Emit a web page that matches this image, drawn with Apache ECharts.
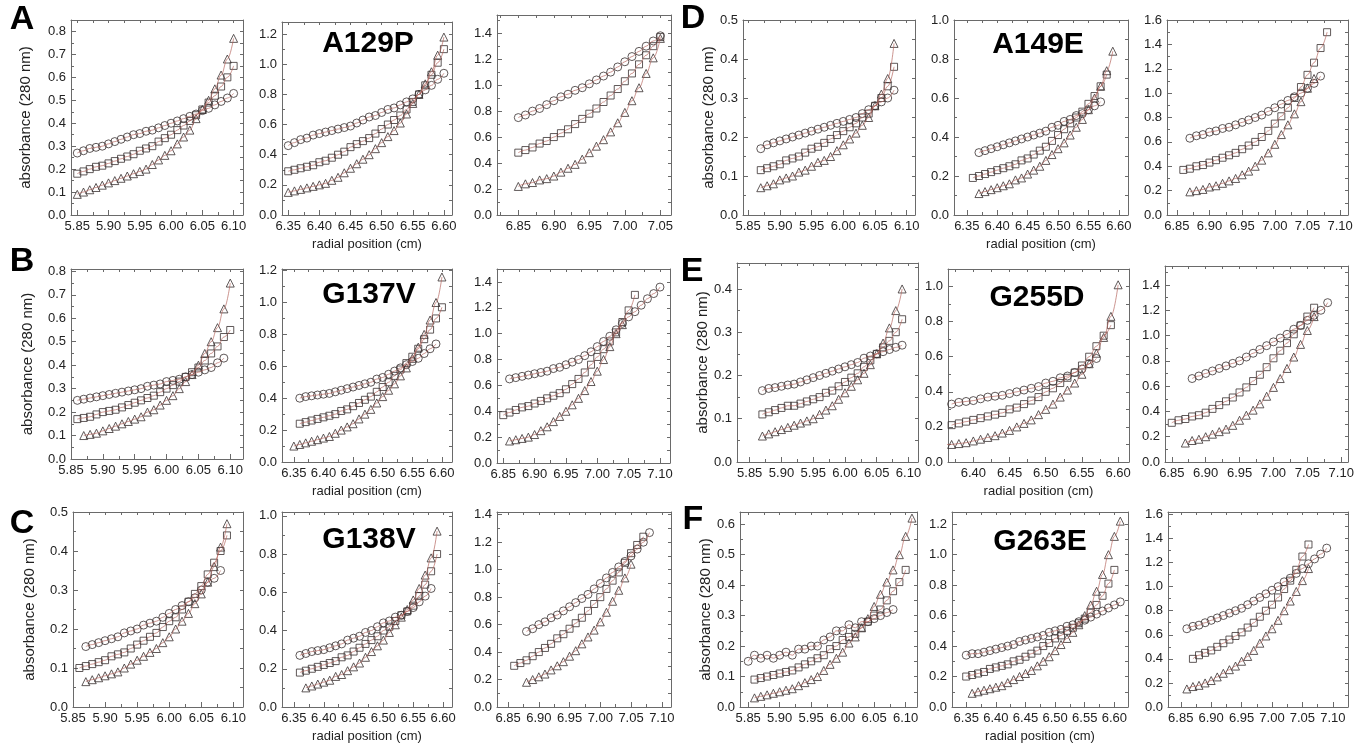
<!DOCTYPE html>
<html><head><meta charset="utf-8">
<script src="https://cdn.jsdelivr.net/npm/echarts@6/dist/echarts.min.js"></script>
<style>html,body{margin:0;padding:0;background:#fff}#c{width:1366px;height:750px}</style>
</head><body><div id="c"></div>
<script>
// ---------------- DATA ----------------
// tick label values
const XT_585 = [5.85,5.90,5.95,6.00,6.05,6.10];
const XT_635 = [6.35,6.40,6.45,6.50,6.55,6.60];
const XT_640 = [6.40,6.45,6.50,6.55,6.60];
const XT_685a = [6.85,6.90,6.95,7.00,7.05];
const XT_685 = [6.85,6.90,6.95,7.00,7.05,7.10];
const YT_04 = [0,0.1,0.2,0.3,0.4];
const YT_05 = [0,0.1,0.2,0.3,0.4,0.5];
const YT_06 = [0,0.1,0.2,0.3,0.4,0.5,0.6];
const YT_08 = [0,0.1,0.2,0.3,0.4,0.5,0.6,0.7,0.8];
const YT_10 = [0,0.2,0.4,0.6,0.8,1.0];
const YT_12 = [0,0.2,0.4,0.6,0.8,1.0,1.2];
const YT_14 = [0,0.2,0.4,0.6,0.8,1.0,1.2,1.4];
const YT_16 = [0,0.2,0.4,0.6,0.8,1.0,1.2,1.4,1.6];

const panelLetters = ['A','B','C','D','E','F'];
const mutants = ['A129P','G137V','G138V','A149E','G255D','G263E'];

// A (A129P)
const A1_x = [5.85,5.86,5.87,5.88,5.89,5.90,5.91,5.92,5.93,5.94,5.95,5.96,5.97,5.98,5.99,6.00,6.01,6.02,6.03,6.04,6.05,6.06,6.07,6.08,6.09,6.10];
const A1_circ = [.27,.28,.29,.295,.30,.31,.32,.33,.34,.35,.355,.365,.37,.38,.39,.40,.41,.42,.43,.44,.455,.465,.48,.495,.51,.53];
const A1_sq   = [.18,.19,.20,.21,.215,.225,.235,.245,.255,.265,.28,.29,.30,.32,.335,.35,.37,.39,.41,.435,.46,.49,.52,.56,.60,.65];
const A1_tri  = [.09,.10,.11,.12,.13,.14,.15,.16,.17,.18,.19,.20,.22,.24,.26,.28,.31,.34,.37,.42,.46,.50,.55,.61,.68,.77];

const A2_x = [6.35,6.36,6.37,6.38,6.39,6.40,6.41,6.42,6.43,6.44,6.45,6.46,6.47,6.48,6.49,6.50,6.51,6.52,6.53,6.54,6.55,6.56,6.57,6.58,6.59,6.60];
const A2_circ = [.46,.48,.50,.51,.53,.54,.55,.56,.57,.58,.59,.61,.63,.65,.66,.68,.70,.71,.73,.75,.77,.80,.83,.86,.90,.94];
const A2_sq   = [.29,.30,.31,.32,.33,.35,.36,.38,.40,.42,.45,.47,.49,.51,.54,.57,.60,.63,.66,.70,.75,.80,.86,.93,1.01,1.10];
const A2_tri  = [.15,.16,.17,.18,.19,.20,.21,.23,.25,.28,.31,.34,.37,.40,.44,.48,.52,.56,.61,.67,.74,.80,.87,.95,1.06,1.18];

const A3_x = [6.85,6.86,6.87,6.88,6.89,6.90,6.91,6.92,6.93,6.94,6.95,6.96,6.97,6.98,6.99,7.00,7.01,7.02,7.03,7.04,7.05];
const A3_circ = [.75,.77,.80,.82,.85,.88,.91,.93,.96,.98,1.01,1.04,1.07,1.10,1.14,1.18,1.22,1.26,1.30,1.34,1.38];
const A3_sq   = [.48,.50,.52,.55,.57,.60,.63,.66,.70,.74,.78,.82,.87,.92,.97,1.03,1.09,1.16,1.23,1.30,1.37];
const A3_tri  = [.22,.24,.25,.27,.28,.30,.33,.36,.39,.43,.48,.53,.58,.64,.71,.79,.88,.98,1.09,1.21,1.36];

// B (G137V)
const B1_x = [5.86,5.87,5.88,5.89,5.90,5.91,5.92,5.93,5.94,5.95,5.96,5.97,5.98,5.99,6.00,6.01,6.02,6.03,6.04,6.05,6.06,6.07,6.08,6.09,6.10];
const B1_circ = [.25,.255,.26,.265,.27,.275,.28,.285,.29,.295,.30,.31,.315,.32,.33,.335,.34,.35,.36,.37,.38,.39,.41,.43,null];
const B1_sq   = [.17,.175,.18,.19,.20,.205,.21,.22,.23,.24,.25,.26,.27,.285,.30,.315,.33,.35,.37,.39,.42,.45,.48,.52,.55];
const B1_tri  = [null,.10,.105,.11,.12,.13,.14,.15,.16,.17,.18,.20,.21,.23,.25,.27,.30,.33,.36,.40,.45,.50,.56,.64,.75];

const B2_x = [6.35,6.36,6.37,6.38,6.39,6.40,6.41,6.42,6.43,6.44,6.45,6.46,6.47,6.48,6.49,6.50,6.51,6.52,6.53,6.54,6.55,6.56,6.57,6.58,6.59,6.60];
const B2_circ = [null,.40,.41,.415,.42,.425,.43,.44,.45,.46,.47,.48,.49,.50,.52,.53,.55,.57,.59,.61,.63,.65,.68,.71,.74,null];
const B2_sq   = [null,.24,.25,.26,.27,.28,.29,.30,.32,.33,.35,.37,.39,.41,.44,.47,.50,.54,.58,.62,.66,.71,.77,.83,.90,.97];
const B2_tri  = [.10,.11,.12,.13,.14,.15,.16,.18,.20,.22,.24,.27,.30,.33,.37,.41,.45,.49,.54,.59,.65,.72,.80,.89,1.00,1.16];

const B3_x = [6.85,6.86,6.87,6.88,6.89,6.90,6.91,6.92,6.93,6.94,6.95,6.96,6.97,6.98,6.99,7.00,7.01,7.02,7.03,7.04,7.05,7.06,7.07,7.08,7.09,7.10];
const B3_circ = [null,.65,.66,.67,.68,.69,.70,.71,.73,.74,.76,.78,.80,.83,.86,.90,.94,.98,1.03,1.08,1.13,1.17,1.22,1.27,1.31,1.36];
const B3_sq   = [.37,.39,.41,.43,.44,.46,.48,.50,.52,.54,.57,.61,.65,.70,.76,.82,.88,.94,1.01,1.09,1.18,1.30,null,null,null,null];
const B3_tri  = [null,.17,.18,.19,.20,.22,.25,.28,.32,.36,.40,.45,.50,.56,.63,.71,.80,.90,1.00,1.07,null,null,null,null,null,null];

// C (G138V)
const C1_x = [5.86,5.87,5.88,5.89,5.90,5.91,5.92,5.93,5.94,5.95,5.96,5.97,5.98,5.99,6.00,6.01,6.02,6.03,6.04,6.05,6.06,6.07,6.08,6.09];
const C1_circ = [null,.155,.16,.165,.17,.175,.18,.19,.195,.20,.21,.215,.22,.23,.24,.25,.26,.27,.28,.30,.32,.33,.35,null];
const C1_sq   = [.10,.105,.11,.115,.12,.13,.135,.14,.15,.16,.17,.18,.19,.205,.22,.23,.25,.27,.29,.31,.34,.37,.40,.44];
const C1_tri  = [null,.065,.07,.075,.08,.085,.09,.10,.11,.12,.13,.14,.15,.165,.18,.20,.22,.24,.265,.29,.32,.36,.41,.47];

const C2_x = [6.36,6.37,6.38,6.39,6.40,6.41,6.42,6.43,6.44,6.45,6.46,6.47,6.48,6.49,6.50,6.51,6.52,6.53,6.54,6.55,6.56,6.57,6.58,6.59];
const C2_circ = [.27,.28,.29,.295,.30,.31,.32,.33,.35,.36,.37,.39,.40,.42,.44,.45,.47,.48,.50,.52,.55,.58,.62,null];
const C2_sq   = [.18,.19,.20,.21,.22,.23,.24,.26,.27,.29,.31,.33,.35,.37,.40,.42,.45,.48,.50,.53,.58,.64,.71,.80];
const C2_tri  = [null,.10,.11,.12,.13,.14,.16,.17,.19,.21,.23,.26,.29,.32,.35,.39,.43,.47,.51,.56,.62,.69,.78,.92];

const C3_x = [6.86,6.87,6.88,6.89,6.90,6.91,6.92,6.93,6.94,6.95,6.96,6.97,6.98,6.99,7.00,7.01,7.02,7.03,7.04,7.05,7.06,7.07,7.08];
const C3_circ = [null,null,.55,.57,.60,.62,.65,.67,.70,.73,.76,.79,.82,.86,.90,.94,.98,1.02,1.06,1.10,1.15,1.20,1.27];
const C3_sq   = [.30,.32,.34,.37,.40,.43,.46,.50,.53,.57,.61,.65,.70,.75,.80,.86,.92,.98,1.05,1.12,1.18,1.24,null];
const C3_tri  = [null,null,.18,.20,.22,.24,.27,.30,.33,.37,.41,.46,.51,.56,.62,.69,.77,.85,.94,1.04,null,null,null];

// D (A149E)
const D1_x = [5.87,5.88,5.89,5.90,5.91,5.92,5.93,5.94,5.95,5.96,5.97,5.98,5.99,6.00,6.01,6.02,6.03,6.04,6.05,6.06,6.07,6.08];
const D1_circ = [.17,.18,.185,.19,.195,.20,.205,.21,.215,.22,.225,.23,.235,.24,.245,.25,.26,.27,.28,.29,.30,.32];
const D1_sq   = [.115,.12,.125,.13,.14,.145,.15,.16,.17,.175,.185,.195,.205,.215,.225,.235,.25,.26,.28,.30,.33,.38];
const D1_tri  = [.07,.075,.08,.09,.095,.10,.11,.115,.125,.135,.14,.15,.165,.18,.195,.21,.23,.25,.28,.31,.35,.44];

const D2_x = [6.36,6.37,6.38,6.39,6.40,6.41,6.42,6.43,6.44,6.45,6.46,6.47,6.48,6.49,6.50,6.51,6.52,6.53,6.54,6.55,6.56,6.57,6.58,6.59];
const D2_circ = [null,.32,.33,.34,.35,.36,.37,.38,.39,.40,.41,.42,.43,.45,.46,.48,.49,.51,.52,.54,.56,.58,null,null];
const D2_sq   = [.19,.20,.21,.22,.23,.24,.25,.26,.28,.29,.31,.33,.35,.38,.41,.44,.47,.50,.53,.57,.61,.66,.72,null];
const D2_tri  = [null,.11,.12,.13,.14,.15,.16,.18,.19,.21,.23,.25,.28,.31,.34,.37,.41,.45,.49,.54,.60,.66,.74,.84];

const D3_x = [6.86,6.87,6.88,6.89,6.90,6.91,6.92,6.93,6.94,6.95,6.96,6.97,6.98,6.99,7.00,7.01,7.02,7.03,7.04,7.05,7.06,7.07,7.08];
const D3_circ = [null,.63,.65,.66,.68,.69,.71,.72,.74,.76,.78,.80,.82,.85,.88,.91,.94,.97,1.00,1.04,1.08,1.14,null];
const D3_sq   = [.37,.38,.40,.41,.43,.45,.47,.49,.51,.54,.57,.60,.64,.69,.75,.81,.88,.96,1.05,1.15,1.25,1.37,1.50];
const D3_tri  = [null,.19,.20,.21,.23,.24,.26,.28,.30,.33,.36,.40,.45,.51,.58,.66,.74,.83,.93,1.04,1.12,null,null];

// E (G255D)
const E1_x = [5.87,5.88,5.89,5.90,5.91,5.92,5.93,5.94,5.95,5.96,5.97,5.98,5.99,6.00,6.01,6.02,6.03,6.04,6.05,6.06,6.07,6.08,6.09];
const E1_circ = [.165,.17,.172,.175,.178,.18,.185,.19,.195,.20,.205,.21,.215,.22,.225,.23,.24,.245,.25,.255,.26,.265,.27];
const E1_sq   = [.11,.115,.12,.125,.13,.13,.135,.14,.145,.15,.16,.165,.175,.185,.195,.205,.22,.235,.25,.265,.28,.30,.33];
const E1_tri  = [.06,.065,.07,.075,.08,.085,.09,.095,.10,.11,.12,.13,.145,.16,.175,.19,.205,.225,.25,.275,.31,.35,.40];

const E2_x = [6.36,6.37,6.38,6.39,6.40,6.41,6.42,6.43,6.44,6.45,6.46,6.47,6.48,6.49,6.50,6.51,6.52,6.53,6.54,6.55,6.56,6.57,6.58,6.59,6.60];
const E2_circ = [null,.33,.34,.345,.35,.36,.37,.375,.38,.39,.40,.41,.42,.43,.45,.46,.48,.49,.51,.53,.56,.59,null,null,null];
const E2_sq   = [null,.21,.22,.23,.24,.25,.26,.27,.28,.30,.31,.33,.35,.37,.40,.42,.45,.48,.51,.55,.60,.66,.72,.78,null];
const E2_tri  = [.10,.10,.105,.11,.12,.13,.14,.15,.165,.18,.20,.22,.24,.27,.30,.33,.37,.41,.45,.50,.56,.62,.71,.83,1.01];

const E3_x = [6.85,6.86,6.87,6.88,6.89,6.90,6.91,6.92,6.93,6.94,6.95,6.96,6.97,6.98,6.99,7.00,7.01,7.02,7.03,7.04,7.05,7.06,7.07,7.08];
const E3_circ = [null,null,null,.66,.68,.70,.72,.74,.76,.78,.80,.83,.86,.89,.92,.95,.98,1.01,1.05,1.08,1.12,1.16,1.20,1.26];
const E3_sq   = [.31,.33,.34,.36,.37,.39,.42,.45,.48,.51,.55,.59,.64,.69,.75,.82,.88,.94,1.01,1.08,1.15,1.22,null,null];
const E3_tri  = [null,null,.15,.17,.18,.20,.22,.24,.26,.29,.33,.37,.41,.46,.52,.59,.66,.74,.83,.93,1.04,1.15,null,null];

// F (G263E)
const F1_x = [5.85,5.86,5.87,5.88,5.89,5.90,5.91,5.92,5.93,5.94,5.95,5.96,5.97,5.98,5.99,6.00,6.01,6.02,6.03,6.04,6.05,6.06,6.07,6.08,6.09,6.10,6.11];
const F1_circ = [.15,.17,.16,.17,.16,.17,.18,.17,.19,.19,.20,.20,.22,.23,.25,.25,.27,.26,.28,.28,.29,.30,.31,.32,null,null,null];
const F1_sq   = [null,.09,.095,.10,.105,.11,.115,.12,.13,.14,.15,.16,.17,.19,.20,.22,.23,.24,.26,.28,.30,.32,.35,.38,.41,.45,null];
const F1_tri  = [null,.03,.035,.04,.045,.05,.055,.06,.07,.08,.09,.10,.12,.14,.16,.18,.21,.23,.26,.29,.33,.37,.41,.45,.50,.56,.62];

const F2_x = [6.35,6.36,6.37,6.38,6.39,6.40,6.41,6.42,6.43,6.44,6.45,6.46,6.47,6.48,6.49,6.50,6.51,6.52,6.53,6.54,6.55,6.56,6.57,6.58,6.59,6.60,6.61];
const F2_circ = [.34,.35,.35,.36,.37,.38,.39,.40,.41,.43,.44,.45,.46,.47,.49,.50,.51,.53,.54,.56,.57,.59,.61,.63,.65,.67,.69];
const F2_sq   = [.20,.21,.22,.23,.25,.26,.27,.28,.30,.31,.33,.35,.37,.40,.42,.45,.47,.50,.52,.55,.58,.62,.67,.73,.81,.90,null];
const F2_tri  = [null,.09,.10,.11,.12,.13,.14,.16,.18,.20,.22,.24,.27,.30,.33,.37,.41,.45,.49,.54,.60,.67,.76,.87,1.00,1.12,1.22];

const F3_x = [6.86,6.87,6.88,6.89,6.90,6.91,6.92,6.93,6.94,6.95,6.96,6.97,6.98,6.99,7.00,7.01,7.02,7.03,7.04,7.05,7.06,7.07,7.08,7.09];
const F3_circ = [.65,.67,.68,.70,.72,.74,.76,.78,.80,.82,.85,.88,.91,.94,.97,1.00,1.04,1.07,1.11,1.15,1.19,1.23,1.27,1.32];
const F3_sq   = [null,.40,.43,.45,.47,.50,.53,.56,.59,.62,.66,.70,.75,.80,.85,.91,.98,1.05,1.14,1.25,1.35,null,null,null];
const F3_tri  = [.15,.17,.18,.20,.22,.25,.28,.31,.34,.38,.42,.47,.53,.59,.65,.72,.80,.88,.96,1.05,1.15,null,null,null];

// ---------------- LAYOUT / STYLE ----------------
const FONT = '"Liberation Sans", Arial, sans-serif';
const FRAME = '#6a6a6a';
const TXT = '#222';
const FIT = '#b4625a';
const MARK = '#3a3232';

// box = [left, top, right, bottom] in px; xr = axis range; ymax
const PANELS = [
  {x:A1_x,c:A1_circ,s:A1_sq,t:A1_tri, box:[71,20,243,215],  xr:[5.84,6.115], xt:XT_585, yt:YT_08, ymax:0.85, yname:38},
  {x:A2_x,c:A2_circ,s:A2_sq,t:A2_tri, box:[282,22,452,215], xr:[6.34,6.613], xt:XT_635, yt:YT_12, ymax:1.28, xname:true},
  {x:A3_x,c:A3_circ,s:A3_sq,t:A3_tri, box:[497,15,671,215], xr:[6.82,7.065], xt:XT_685a, yt:YT_14, ymax:1.54},
  {x:D1_x,c:D1_circ,s:D1_sq,t:D1_tri, box:[743,20,915,215], xr:[5.842,6.113], xt:XT_585, yt:YT_05, ymax:0.5, yname:16},
  {x:D2_x,c:D2_circ,s:D2_sq,t:D2_tri, box:[954,20,1128,215], xr:[6.329,6.615], xt:XT_635, yt:YT_10, ymax:1.0, xname:true},
  {x:D3_x,c:D3_circ,s:D3_sq,t:D3_tri, box:[1167,20,1348,215], xr:[6.835,7.112], xt:XT_685, yt:YT_16, ymax:1.6},
  {x:B1_x,c:B1_circ,s:B1_sq,t:B1_tri, box:[71,269,243,459], xr:[5.85,6.12], xt:XT_585, yt:YT_08, ymax:0.81, yname:36},
  {x:B2_x,c:B2_circ,s:B2_sq,t:B2_tri, box:[282,269,452,462], xr:[6.33,6.617], xt:XT_635, yt:YT_12, ymax:1.21, xname:true},
  {x:B3_x,c:B3_circ,s:B3_sq,t:B3_tri, box:[497,269,670,463], xr:[6.84,7.116], xt:XT_685, yt:YT_14, ymax:1.5},
  {x:E1_x,c:E1_circ,s:E1_sq,t:E1_tri, box:[737,263,918,462], xr:[5.83,6.115], xt:XT_585, yt:YT_04, ymax:0.46, yname:17},
  {x:E2_x,c:E2_circ,s:E2_sq,t:E2_tri, box:[948,269,1129,462], xr:[6.365,6.615], xt:XT_640, yt:YT_10, ymax:1.1, xname:true},
  {x:E3_x,c:E3_circ,s:E3_sq,t:E3_tri, box:[1165,266,1348,462], xr:[6.84,7.11], xt:XT_685, yt:YT_14, ymax:1.55},
  {x:C1_x,c:C1_circ,s:C1_sq,t:C1_tri, box:[73,512,243,707], xr:[5.85,6.115], xt:XT_585, yt:YT_05, ymax:0.5, yname:36},
  {x:C2_x,c:C2_circ,s:C2_sq,t:C2_tri, box:[282,512,452,707], xr:[6.33,6.615], xt:XT_635, yt:YT_10, ymax:1.02, xname:true},
  {x:C3_x,c:C3_circ,s:C3_sq,t:C3_tri, box:[497,512,671,707], xr:[6.832,7.115], xt:XT_685, yt:YT_14, ymax:1.42},
  {x:F1_x,c:F1_circ,s:F1_sq,t:F1_tri, box:[740,512,917,707], xr:[5.837,6.118], xt:XT_585, yt:YT_06, ymax:0.64, yname:17},
  {x:F2_x,c:F2_circ,s:F2_sq,t:F2_tri, box:[952,512,1128,707], xr:[6.326,6.623], xt:XT_635, yt:YT_12, ymax:1.28, xname:true},
  {x:F3_x,c:F3_circ,s:F3_sq,t:F3_tri, box:[1168,512,1348,707], xr:[6.829,7.125], xt:XT_685, yt:YT_16, ymax:1.62}
];

const LETTER_POS = [[22,20],[22,262],[22,524],[693,19],[692,272],[693,520]];
const MUT_POS = [[368,44],[369,295],[369,540],[1038,45],[1037,298],[1040,542]];

function minors(t, lo, hi){
  const d = t[1]-t[0]; const out = [];
  for (let k = -1; k < t.length + 2; k++) {
    const v = +(t[0] + (k + 0.5) * d).toFixed(5);
    if (v >= lo - 1e-9 && v <= hi + 1e-9) out.push(v);
  }
  return out;
}
function pairs(xs, ys){
  if (xs.length !== ys.length) throw new Error('length mismatch ' + xs.length + ' vs ' + ys.length + ' : ' + xs[0]);
  const o = [];
  xs.forEach((x,k)=>{ if (ys[k] != null) o.push([x, ys[k]]); });
  return o;
}

const grid = [], xAxis = [], yAxis = [], series = [];
const lineBase = {show:true, onZero:false, lineStyle:{color:FRAME, width:1}};
PANELS.forEach((p,i)=>{
  const [l,t,r,b] = p.box;
  grid.push({left:l, top:t, width:r-l, height:b-t, containLabel:false});
  const xmin = p.xr[0], xmax = p.xr[1];
  const xm = minors(p.xt, xmin, xmax);
  const ym = minors(p.yt, 0, p.ymax);
  const xlabelCommon = {color:TXT, fontSize:13, fontFamily:FONT, margin:5};
  xAxis.push({
    gridIndex:i, type:'value', min:xmin, max:xmax, position:'bottom',
    axisLine:lineBase, splitLine:{show:false},
    axisTick:{show:true, inside:true, length:5, customValues:p.xt, lineStyle:{color:FRAME}},
    axisLabel:Object.assign({customValues:p.xt, formatter:v=>v.toFixed(2)}, xlabelCommon),
    name: p.xname ? 'radial position (cm)' : '', nameLocation:'middle', nameGap:23,
    nameTextStyle:{color:TXT, fontSize:13, fontFamily:FONT}
  });
  xAxis.push({
    gridIndex:i, type:'value', min:xmin, max:xmax, position:'bottom',
    axisLine:{show:false}, splitLine:{show:false}, axisLabel:{show:false},
    axisTick:{show:true, inside:true, length:3, customValues:xm, lineStyle:{color:FRAME}}
  });
  xAxis.push({
    gridIndex:i, type:'value', min:xmin, max:xmax, position:'top',
    axisLine:lineBase, splitLine:{show:false}, axisLabel:{show:false},
    axisTick:{show:true, inside:true, length:3, customValues:p.xt.concat(xm), lineStyle:{color:FRAME}}
  });
  yAxis.push({
    gridIndex:i, type:'value', min:0, max:p.ymax, position:'left',
    axisLine:lineBase, splitLine:{show:false},
    axisTick:{show:true, inside:true, length:5, customValues:p.yt, lineStyle:{color:FRAME}},
    axisLabel:{customValues:p.yt, formatter:v=>v.toFixed(1), color:TXT, fontSize:13, fontFamily:FONT, margin:5},
    name: p.yname ? 'absorbance (280 nm)' : '', nameLocation:'middle', nameGap:p.yname || 0,
    nameTextStyle:{color:TXT, fontSize:15, fontFamily:FONT}
  });
  yAxis.push({
    gridIndex:i, type:'value', min:0, max:p.ymax, position:'left',
    axisLine:{show:false}, splitLine:{show:false}, axisLabel:{show:false},
    axisTick:{show:true, inside:true, length:3, customValues:ym, lineStyle:{color:FRAME}}
  });
  yAxis.push({
    gridIndex:i, type:'value', min:0, max:p.ymax, position:'right',
    axisLine:lineBase, splitLine:{show:false}, axisLabel:{show:false},
    axisTick:{show:true, inside:true, length:3, customValues:p.yt.concat(ym), lineStyle:{color:FRAME}}
  });
  const xi = 3*i, yi = 3*i;
  const sets = [[p.c,'circle',8],[p.s,'rect',7],[p.t,'triangle',8]];
  sets.forEach(([ys,sym,sz])=>{
    const d = pairs(p.x, ys);
    series.push({
      type:'scatter', xAxisIndex:xi, yAxisIndex:yi, data:d, symbol:sym, symbolSize:sz,
      itemStyle:{color:'rgba(255,255,255,0)', borderColor:MARK, borderWidth:0.9, opacity:0.9},
      silent:true, z:2
    });
    series.push({
      type:'line', xAxisIndex:xi, yAxisIndex:yi, data:d, smooth:0.4, smoothMonotone:'x',
      showSymbol:false, symbol:'none', lineStyle:{color:FIT, width:0.8, opacity:0.85},
      silent:true, z:3
    });
  });
});

const graphic = [];
panelLetters.forEach((L,k)=>{
  graphic.push({type:'text', x:LETTER_POS[k][0], y:LETTER_POS[k][1], silent:true, z:10,
    style:{text:L, fill:'#000', font:'bold 34px ' + FONT, align:'center', verticalAlign:'middle'}});
});
mutants.forEach((M,k)=>{
  graphic.push({type:'text', x:MUT_POS[k][0], y:MUT_POS[k][1], silent:true, z:10,
    style:{text:M, fill:'#000', font:'bold 30px ' + FONT, align:'center', verticalAlign:'middle'}});
});

const chart = echarts.init(document.getElementById('c'), null, {renderer:'canvas'});
chart.setOption({
  animation:false,
  backgroundColor:'#fff',
  grid, xAxis, yAxis, series, graphic
});
</script>
</body></html>
